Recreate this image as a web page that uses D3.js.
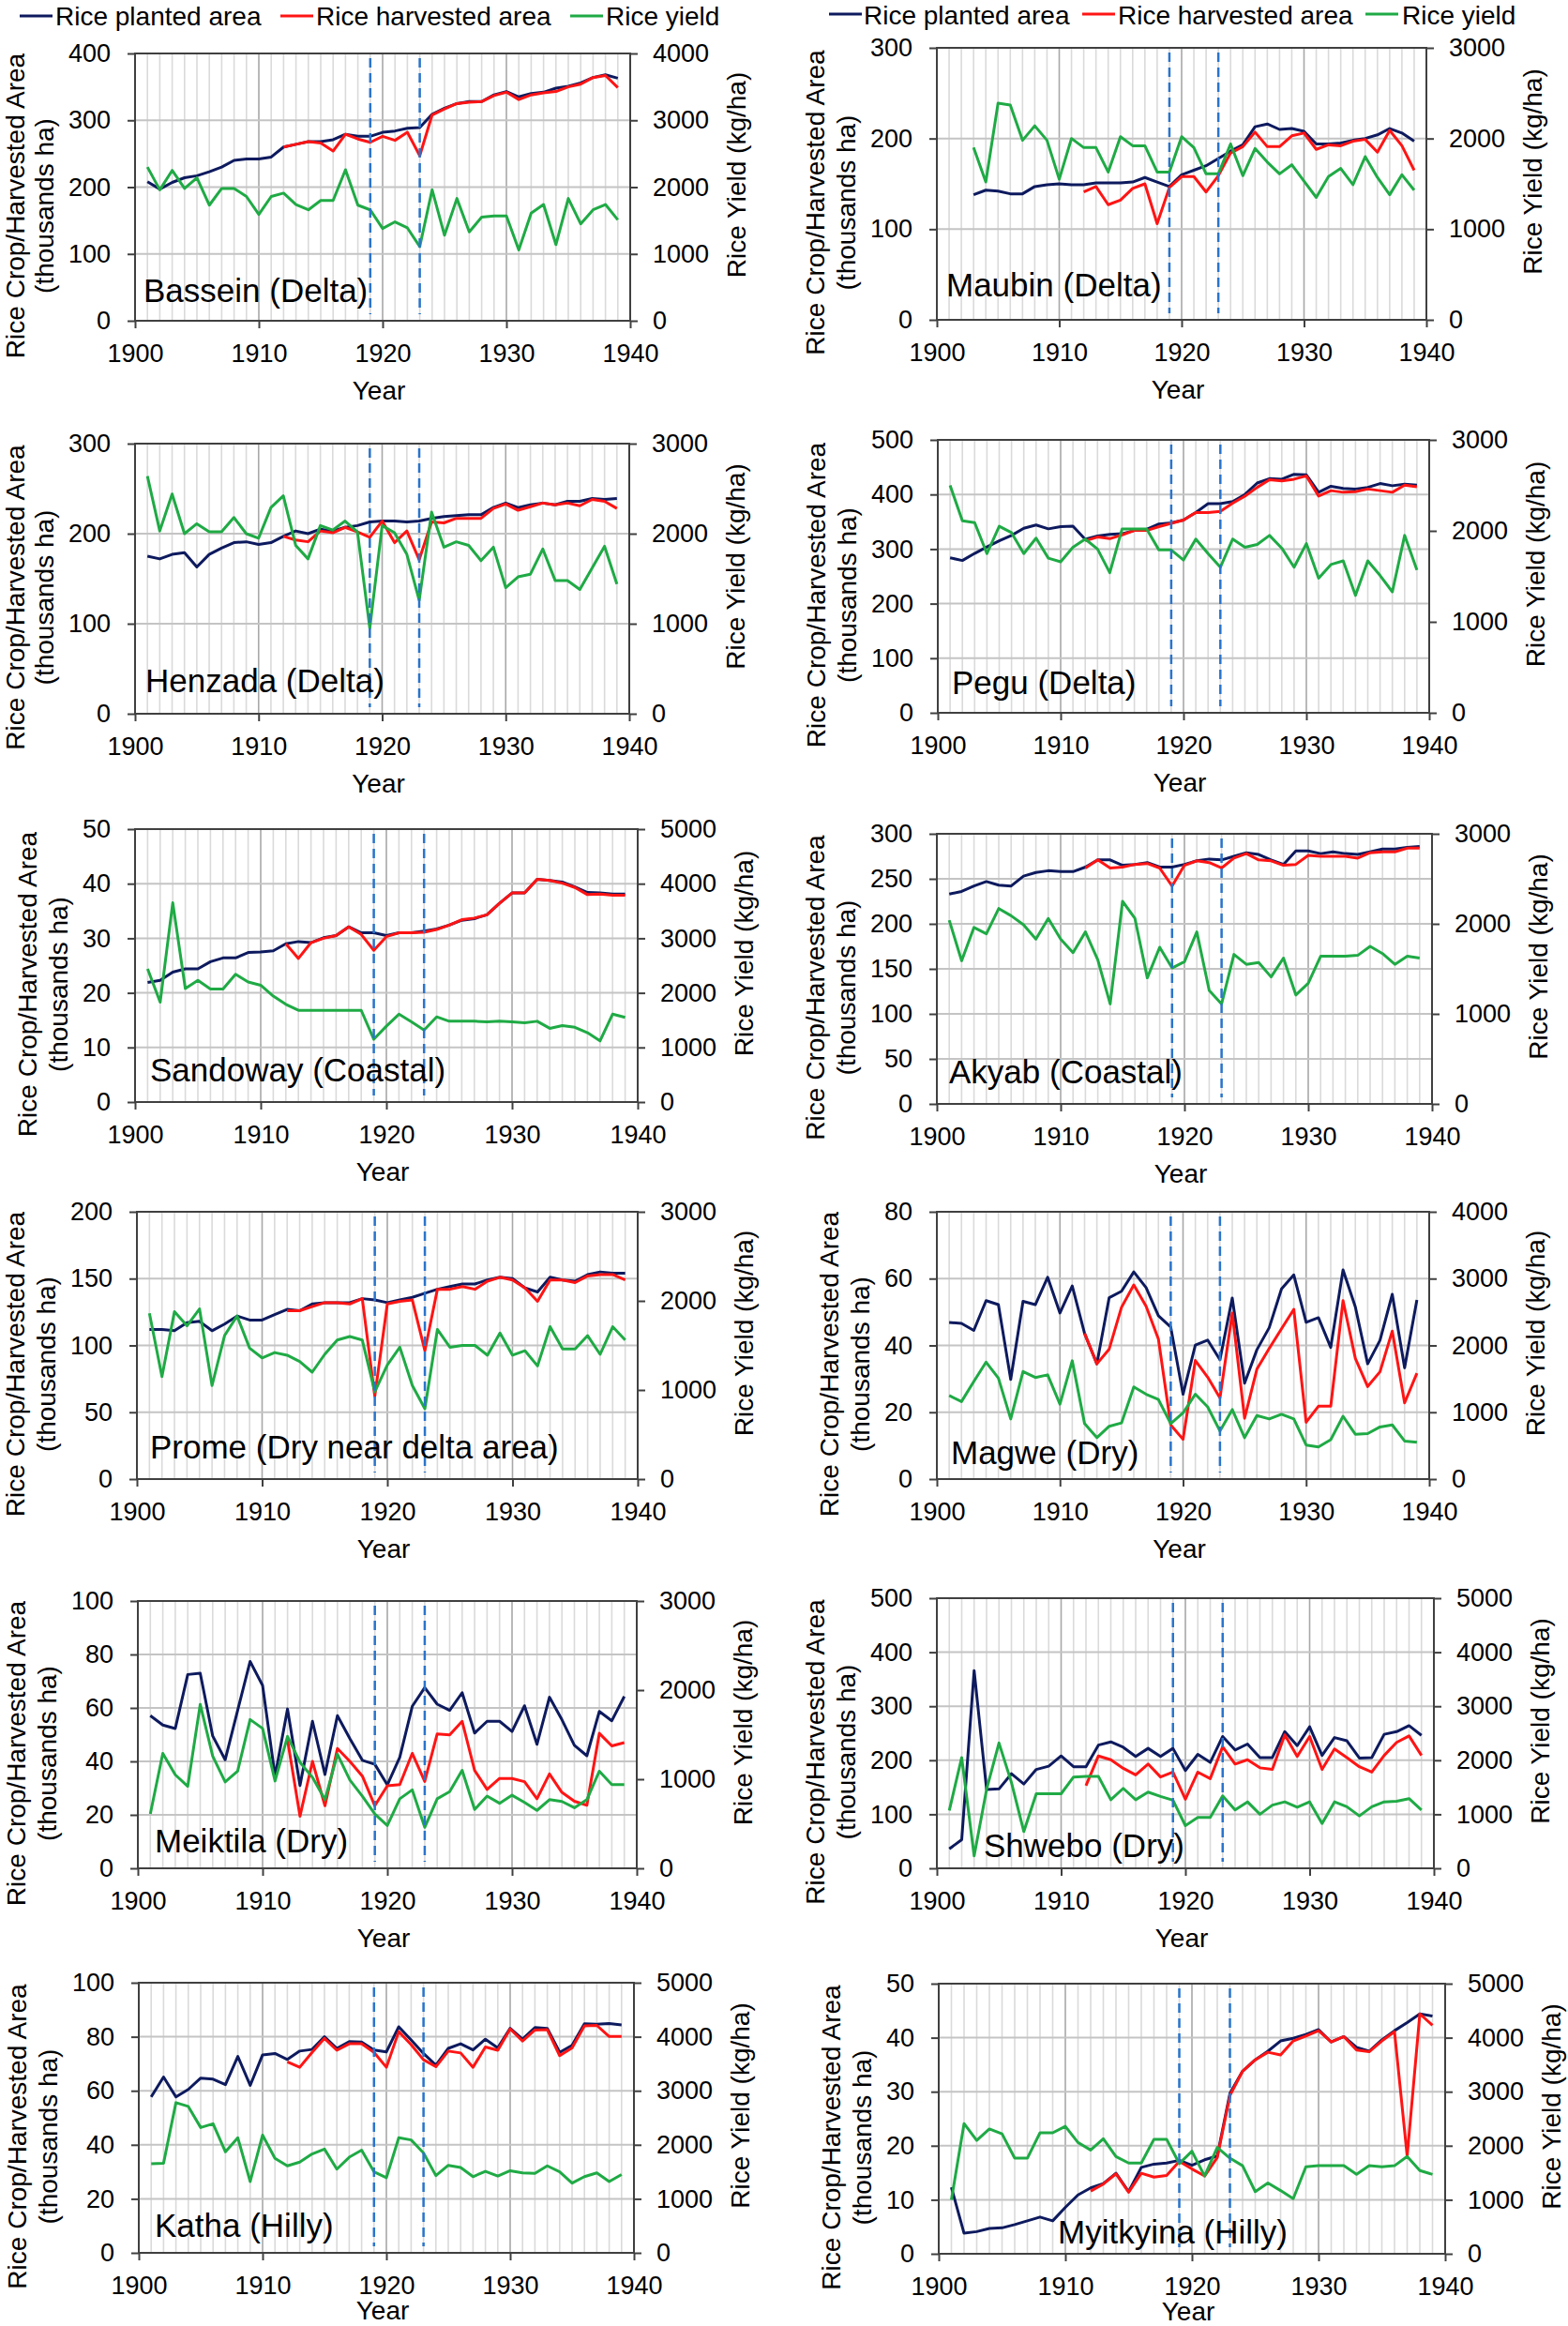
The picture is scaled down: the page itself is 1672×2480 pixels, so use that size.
<!DOCTYPE html>
<html>
<head>
<meta charset="utf-8">
<script src="https://cdn.jsdelivr.net/npm/d3@7"></script>
<style>
  body { margin: 0; background: #fff; }
  svg { display: block; }
</style>
</head>
<body>
<svg id="chart" width="1672" height="2480"></svg>
<script>
const FONT = '"Liberation Sans", Arial, Helvetica, sans-serif';

const years = [1901,1902,1903,1904,1905,1906,1907,1908,1909,1910,1911,1912,1913,1914,1915,1916,1917,1918,1919,1920,
  1921,1922,1923,1924,1925,1926,1927,1928,1929,1930,1931,1932,1933,1934,1935,1936,1937,1938,1939];
const xTicks = [1900, 1910, 1920, 1930, 1940];
const markerYears = [1919, 1923];
const seriesNames = ['Rice planted area', 'Rice harvested area', 'Rice yield'];
const seriesColors = ['#0d1a5e', '#ff1414', '#1faa45'];

// area in thousands ha, yield in kg/ha, one value per year (null = no data)
const basseinPlanted = [208,197,207,214,217,223,230,240,242,242,245,260,264,268,268,271,279,276,276,282,284,288,289,309,318,325,328,328,338,343,335,340,342,348,351,356,364,368,363];
const basseinHarvested = [null,null,null,null,null,null,null,null,null,null,null,260,264,268,266,254,279,272,267,276,270,282,247,308,317,325,327,328,337,342,331,338,341,343,350,354,364,367,349];
const basseinYield = [2300,1960,2250,1980,2140,1730,1980,1980,1860,1590,1860,1910,1740,1660,1800,1800,2260,1730,1660,1380,1480,1390,1110,1960,1280,1830,1330,1550,1570,1570,1060,1610,1740,1140,1830,1450,1660,1740,1510];

const maubinPlanted = [null,null,138,143,142,139,139,147,149,150,149,149,151,151,151,152,157,152,147,160,165,170,178,186,193,213,216,210,211,208,194,194,195,198,200,204,211,206,197];
const maubinHarvested = [null,null,null,null,null,null,null,null,null,null,null,141,147,127,132,145,150,106,146,158,158,141,159,184,191,207,191,191,203,206,188,193,192,197,199,185,209,192,165];
const maubinYield = [null,null,1900,1520,2390,2370,1980,2140,1980,1550,2000,1900,1900,1630,2020,1920,1920,1630,1630,2020,1900,1610,1610,1940,1590,1890,1740,1610,1710,1530,1350,1580,1670,1490,1800,1570,1380,1600,1430];

const henzadaPlanted = [175,172,177,179,163,177,184,190,191,188,190,197,203,200,205,203,207,209,213,214,214,213,214,217,219,220,221,221,229,234,229,232,234,232,236,236,239,238,239];
const henzadaHarvested = [null,null,null,null,null,null,null,null,null,null,null,197,193,191,203,201,207,202,196,214,190,203,171,213,212,217,217,217,228,233,226,230,234,232,234,231,238,236,228];
const henzadaYield = [2640,2030,2440,2000,2110,2020,2020,2180,2000,1950,2290,2420,1870,1720,2090,2040,2140,2020,950,2090,2010,1770,1260,2240,1850,1910,1870,1700,1850,1400,1520,1550,1830,1480,1480,1380,1620,1860,1440];

const peguPlanted = [284,279,292,304,315,325,338,344,337,341,342,318,324,327,328,334,336,346,348,353,367,383,383,387,400,421,429,428,437,436,404,415,411,410,413,420,416,419,417];
const peguHarvested = [null,null,null,null,null,null,null,null,null,null,null,315,322,319,326,334,334,341,347,353,367,367,369,384,397,413,427,425,428,434,397,407,404,405,410,407,404,417,414];
const peguYield = [2500,2110,2090,1750,2050,1980,1750,1920,1700,1660,1820,1910,1800,1540,2020,2020,2020,1790,1790,1680,1910,1750,1600,1910,1820,1850,1950,1810,1600,1860,1480,1630,1670,1290,1670,1510,1330,1950,1570];

const sandowayPlanted = [21.9,22.3,23.8,24.4,24.4,25.7,26.4,26.4,27.4,27.5,27.7,29.0,29.4,29.2,30.1,30.5,32.1,31.0,31.0,30.5,31.0,31.0,31.3,31.7,32.4,33.3,33.6,34.3,36.4,38.3,38.3,40.8,40.6,40.3,39.4,38.4,38.3,38.1,38.1];
const sandowayHarvested = [null,null,null,null,null,null,null,null,null,null,null,29.0,26.3,29.2,30.0,30.5,32.1,30.7,27.8,30.3,31.0,31.0,31.1,31.6,32.4,33.4,33.7,34.3,36.4,38.3,38.3,40.8,40.6,40.1,39.3,38.0,38.1,37.9,37.9];
const sandowayYield = [2440,1830,3650,2080,2230,2070,2070,2340,2200,2140,1940,1790,1680,1680,1680,1680,1680,1680,1150,1390,1610,1470,1320,1560,1480,1480,1480,1470,1480,1470,1450,1480,1350,1400,1370,1270,1120,1610,1550];

const akyabPlanted = [233,236,242,247,243,242,253,257,259,258,258,263,271,271,265,266,268,263,263,266,270,272,271,275,279,277,271,266,281,281,278,280,278,277,280,283,283,285,286];
const akyabHarvested = [null,null,null,null,null,null,null,null,null,null,null,262,271,262,263,266,267,262,242,265,270,268,262,273,278,271,270,265,266,276,275,275,275,273,279,280,280,284,284];
const akyabYield = [2040,1590,1960,1890,2170,2090,1990,1830,2060,1830,1680,1910,1600,1110,2250,2060,1400,1740,1510,1580,1910,1260,1110,1660,1550,1570,1410,1620,1210,1340,1640,1640,1640,1650,1750,1670,1550,1640,1620];

const promePlanted = [112,112,111,117,118,111,116,122,119,119,123,127,126,131,132,132,132,135,134,132,134,136,139,142,144,146,146,149,151,150,143,140,151,149,148,153,155,154,154];
const promeHarvested = [null,null,null,null,null,null,null,null,null,null,null,126,126,129,132,132,131,135,62,131,133,134,96,142,142,144,142,148,151,149,143,133,149,149,147,152,153,153,149];
const promeYield = [1860,1150,1880,1720,1910,1050,1610,1830,1470,1360,1420,1390,1320,1200,1400,1560,1600,1560,980,1280,1480,1050,790,1680,1480,1500,1500,1390,1640,1390,1440,1270,1710,1460,1460,1610,1400,1710,1560];

const magwePlanted = [46.9,46.6,44.5,53.4,52.2,29.8,53.2,52.2,60.4,49.7,57.8,43.6,34.5,54.3,56.2,62.0,57.3,48.9,45.5,25.4,40.1,41.6,35.7,54.2,28.7,38.7,45.3,56.9,61.1,46.9,48.3,39.4,62.6,51.5,34.5,41.5,55.3,33.3,53.6];
const magweHarvested = [null,null,null,null,null,null,null,null,null,null,null,43.6,34.5,38.9,51.4,58.1,51.7,41.9,16.2,11.9,35.5,30.5,24.3,49.7,18.2,32.9,39.1,45.0,50.8,17.0,21.8,21.8,53.4,36.1,27.7,32.1,44.3,22.8,31.7];
const magweYield = [1250,1160,1460,1750,1510,900,1610,1520,1560,1120,1770,830,620,790,840,1380,1270,1190,830,990,1270,1080,720,1040,620,950,900,970,900,510,480,590,940,670,680,780,810,570,550];

const meiktilaPlanted = [57.1,53.6,52.3,72.5,73.0,49.5,40.6,59.1,77.4,68.4,34.5,59.6,31.0,55.0,35.1,57.1,48.5,40.4,38.9,31.2,41.5,60.6,67.6,61.4,59.1,65.7,50.6,55.0,55.0,51.2,60.8,46.4,64.0,55.6,46.0,42.1,58.7,55.2,64.3];
const meiktilaHarvested = [null,null,null,null,null,null,null,null,null,null,null,48.0,19.5,40.0,23.4,44.8,40.0,34.5,23.4,30.9,31.3,43.0,32.5,50.3,49.9,55.0,36.6,29.5,33.6,33.6,32.4,26.0,35.3,28.4,25.1,23.6,50.5,45.8,47.0];
const meiktilaYield = [610,1290,1050,920,1840,1260,970,1090,1670,1570,980,1480,1190,1020,770,1280,990,810,610,480,780,880,460,780,860,1100,660,810,730,820,740,650,770,750,680,770,1090,940,940];

const shweboPlanted = [36,53,366,146,147,175,156,183,189,208,188,188,228,234,224,207,222,207,222,181,211,196,244,219,230,205,205,253,227,262,209,242,236,204,205,248,253,264,246];
const shweboHarvested = [null,null,null,null,null,null,null,null,null,null,null,153,208,201,185,173,193,169,178,128,178,166,225,193,201,186,183,247,207,244,183,221,205,188,178,209,233,245,209];
const shweboYield = [1070,2050,230,1460,2320,1590,680,1380,1380,1380,1690,1700,1700,1270,1480,1270,1410,1330,1260,790,940,940,1340,1080,1230,1000,1170,1230,1130,1230,830,1230,1140,970,1140,1230,1240,1290,1080];

const kathaPlanted = [57.7,65.1,57.7,60.5,64.7,64.3,62.3,72.7,62.0,73.3,73.8,71.6,74.7,75.3,80.0,75.7,78.2,78.0,75.1,74.4,83.7,78.8,73.8,69.5,75.7,77.4,75.1,79.1,75.9,83.1,79.1,83.4,83.1,74.2,76.8,84.8,84.6,84.9,84.4];
const kathaHarvested = [null,null,null,null,null,null,null,null,null,null,null,70.7,68.7,74.2,79.4,75.0,77.4,77.4,74.2,68.7,81.9,77.1,71.5,68.9,74.7,74.0,68.7,76.2,75.0,82.9,78.4,82.5,82.6,73.0,75.9,84.0,84.2,80.1,80.1];
const kathaYield = [1650,1660,2780,2710,2320,2390,1870,2130,1320,2180,1750,1610,1680,1830,1920,1550,1770,1900,1500,1390,2130,2090,1850,1430,1620,1580,1410,1510,1420,1520,1480,1470,1610,1500,1290,1410,1480,1320,1450];

const myitkyinaPlanted = [12.3,3.8,4.1,4.7,4.8,5.4,6.1,6.8,6.1,8.6,10.9,12.2,13.0,14.9,11.5,16.0,16.6,16.8,17.3,16.4,17.4,18.1,29.7,33.8,35.9,37.5,39.4,39.9,40.6,41.5,39.2,40.2,38.2,37.5,39.6,41.3,42.8,44.4,44.0];
const myitkyinaHarvested = [null,null,null,null,null,null,null,null,null,null,null,11.6,12.9,14.8,11.4,14.9,14.2,14.5,17.1,15.7,14.4,17.8,29.3,33.8,35.9,37.3,36.8,39.4,40.3,41.3,39.2,40.2,37.7,37.4,39.4,41.1,18.1,44.4,42.3];
const myitkyinaYield = [1000,2410,2100,2310,2220,1770,1770,2240,2240,2360,2060,1920,2130,1800,1680,1680,2120,2120,1670,1900,1440,1970,1770,1630,1150,1310,1170,1020,1610,1630,1630,1630,1470,1630,1610,1630,1800,1540,1470];

// panel layout (pixels) + axis ranges
const panels = [
  { name: 'Bassein (Delta)', series: [basseinPlanted, basseinHarvested, basseinYield], x0: 144, x1: 672, top: 57, bot: 342, lMax: 400, lStep: 100, rMax: 4000, rStep: 1000, nx: 9, ny: 20, last: false },
  { name: 'Maubin (Delta)', series: [maubinPlanted, maubinHarvested, maubinYield], x0: 999, x1: 1521, top: 51, bot: 341, lMax: 300, lStep: 100, rMax: 3000, rStep: 1000, nx: 10, ny: 25, last: false },
  { name: 'Henzada (Delta)', series: [henzadaPlanted, henzadaHarvested, henzadaYield], x0: 144, x1: 671, top: 473, bot: 761, lMax: 300, lStep: 100, rMax: 3000, rStep: 1000, nx: 11, ny: 23, last: false },
  { name: 'Pegu (Delta)', series: [peguPlanted, peguHarvested, peguYield], x0: 1000, x1: 1524, top: 469, bot: 760, lMax: 500, lStep: 100, rMax: 3000, rStep: 1000, nx: 15, ny: 20, last: false },
  { name: 'Sandoway (Coastal)', series: [sandowayPlanted, sandowayHarvested, sandowayYield], x0: 144, x1: 680, top: 884, bot: 1175, lMax: 50, lStep: 10, rMax: 5000, rStep: 1000, nx: 16, ny: 22, last: false },
  { name: 'Akyab (Coastal)', series: [akyabPlanted, akyabHarvested, akyabYield], x0: 999, x1: 1527, top: 889, bot: 1177, lMax: 300, lStep: 50, rMax: 3000, rStep: 1000, nx: 13, ny: 22, last: false },
  { name: 'Prome (Dry near delta area)', series: [promePlanted, promeHarvested, promeYield], x0: 146, x1: 680, top: 1292, bot: 1577, lMax: 200, lStep: 50, rMax: 3000, rStep: 1000, nx: 14, ny: 22, last: false },
  { name: 'Magwe (Dry)', series: [magwePlanted, magweHarvested, magweYield], x0: 999, x1: 1524, top: 1292, bot: 1577, lMax: 80, lStep: 20, rMax: 4000, rStep: 1000, nx: 15, ny: 16, last: false },
  { name: 'Meiktila (Dry)', series: [meiktilaPlanted, meiktilaHarvested, meiktilaYield], x0: 147, x1: 679, top: 1707, bot: 1992, lMax: 100, lStep: 20, rMax: 3000, rStep: 1000, nx: 18, ny: 17, last: false },
  { name: 'Shwebo (Dry)', series: [shweboPlanted, shweboHarvested, shweboYield], x0: 999, x1: 1529, top: 1704, bot: 1992, lMax: 500, lStep: 100, rMax: 5000, rStep: 1000, nx: 50, ny: 12, last: false },
  { name: 'Katha (Hilly)', series: [kathaPlanted, kathaHarvested, kathaYield], x0: 148, x1: 676, top: 2114, bot: 2402, lMax: 100, lStep: 20, rMax: 5000, rStep: 1000, nx: 17, ny: 17, last: true },
  { name: 'Myitkyina (Hilly)', series: [myitkyinaPlanted, myitkyinaHarvested, myitkyinaYield], x0: 1001, x1: 1541, top: 2115, bot: 2403, lMax: 50, lStep: 10, rMax: 5000, rStep: 1000, nx: 127, ny: 11, last: true }
];

const legends = [
  { y: 17, base: 27, items: [[21, 59], [299, 337], [608, 646]] },
  { y: 15, base: 26, items: [[884, 921], [1154, 1192], [1456, 1495]] }
];

const svg = d3.select('#chart');
svg.append('rect').attr('width', 1672).attr('height', 2480).attr('fill', '#fff');

function styleAxis(g) {
  g.attr('font-family', FONT).attr('font-size', 27);
  g.select('.domain').remove();
  g.selectAll('line').attr('stroke', '#404040').attr('stroke-width', 2);
  g.selectAll('text').attr('fill', '#000');
}

function drawPanel(cfg) {
  const x = d3.scaleLinear().domain([1900, 1940]).range([cfg.x0, cfg.x1]);
  const yL = d3.scaleLinear().domain([0, cfg.lMax]).range([cfg.bot, cfg.top]);
  const yR = d3.scaleLinear().domain([0, cfg.rMax]).range([cfg.bot, cfg.top]);
  const g = svg.append('g');

  // yearly vertical grid, decades darker
  g.append('g').selectAll('line').data(d3.range(1901, 1940)).join('line')
    .attr('x1', d => x(d)).attr('x2', d => x(d))
    .attr('y1', cfg.top).attr('y2', cfg.bot)
    .attr('stroke', d => d % 10 === 0 ? '#a8a8a8' : '#dadada')
    .attr('stroke-width', 1.6);

  const lTicks = d3.range(0, cfg.lMax + cfg.lStep / 2, cfg.lStep);
  const rTicks = d3.range(0, cfg.rMax + cfg.rStep / 2, cfg.rStep);

  g.append('g').selectAll('line').data(lTicks.slice(1, -1)).join('line')
    .attr('x1', cfg.x0).attr('x2', cfg.x1)
    .attr('y1', d => yL(d)).attr('y2', d => yL(d))
    .attr('stroke', '#c4c4c4').attr('stroke-width', 2);

  g.append('rect')
    .attr('x', cfg.x0).attr('y', cfg.top)
    .attr('width', cfg.x1 - cfg.x0).attr('height', cfg.bot - cfg.top)
    .attr('fill', 'none').attr('stroke', '#404040').attr('stroke-width', 2);

  g.append('g').attr('transform', `translate(${cfg.x0},0)`)
    .call(d3.axisLeft(yL).tickValues(lTicks).tickSize(8).tickPadding(18).tickFormat(d3.format('d')))
    .call(styleAxis);
  g.append('g').attr('transform', `translate(${cfg.x1},0)`)
    .call(d3.axisRight(yR).tickValues(rTicks).tickSize(8).tickPadding(16).tickFormat(d3.format('d')))
    .call(styleAxis);
  g.append('g').attr('transform', `translate(0,${cfg.bot})`)
    .call(d3.axisBottom(x).tickValues(xTicks).tickSize(8).tickPadding(17).tickFormat(d3.format('d')))
    .call(styleAxis);

  // data lines: planted, harvested (left axis), yield (right axis)
  const scales = [yL, yL, yR];
  cfg.series.forEach((vals, i) => {
    const pts = years.map((yr, j) => ({ year: yr, v: vals[j] }));
    const line = d3.line()
      .defined(d => d.v != null)
      .x(d => x(d.year))
      .y(d => scales[i](d.v));
    g.append('path').datum(pts)
      .attr('d', line)
      .attr('fill', 'none')
      .attr('stroke', seriesColors[i])
      .attr('stroke-width', 3)
      .attr('stroke-linejoin', 'round');
  });

  // 1919 / 1923 markers
  g.append('g').selectAll('line').data(markerYears).join('line')
    .attr('x1', d => x(d)).attr('x2', d => x(d))
    .attr('y1', cfg.top + 5).attr('y2', cfg.bot - 7)
    .attr('stroke', '#2a74cc').attr('stroke-width', 2.5)
    .attr('stroke-dasharray', '10,6');

  // axis titles
  const digits = String(cfg.lMax).length;
  const l2 = cfg.x0 - (52 + 15 * digits);
  const l1 = Math.max(l2 - 33, cfg.x0 > 500 ? 0 : 16);
  const midY = (cfg.top + cfg.bot) / 2;
  [['Rice Crop/Harvested Area', l1], ['(thousands ha)', l2]].forEach(([t, cx]) => {
    g.append('text')
      .attr('transform', `translate(${cx},${midY + 20}) rotate(-90)`)
      .attr('text-anchor', 'middle').attr('dominant-baseline', 'central')
      .attr('font-family', FONT).attr('font-size', 28)
      .text(t);
  });
  g.append('text')
    .attr('transform', `translate(${cfg.x1 + 113},${midY - 13}) rotate(-90)`)
    .attr('text-anchor', 'middle').attr('dominant-baseline', 'central')
    .attr('font-family', FONT).attr('font-size', 28)
    .text('Rice Yield (kg/ha)');
  g.append('text')
    .attr('x', (cfg.x0 + cfg.x1) / 2 - 4)
    .attr('y', cfg.bot + (cfg.last ? 71 : 84))
    .attr('text-anchor', 'middle')
    .attr('font-family', FONT).attr('font-size', 28)
    .text('Year');

  g.append('text')
    .attr('x', cfg.x0 + cfg.nx).attr('y', cfg.bot - cfg.ny)
    .attr('font-family', FONT).attr('font-size', 35)
    .text(cfg.name);
}

panels.forEach(drawPanel);

legends.forEach(lg => {
  lg.items.forEach(([lx, tx], i) => {
    svg.append('line')
      .attr('x1', lx).attr('x2', lx + 35)
      .attr('y1', lg.y).attr('y2', lg.y)
      .attr('stroke', seriesColors[i]).attr('stroke-width', 3);
    svg.append('text')
      .attr('x', tx).attr('y', lg.base)
      .attr('font-family', FONT).attr('font-size', 28)
      .text(seriesNames[i]);
  });
});
</script>
</body>
</html>
